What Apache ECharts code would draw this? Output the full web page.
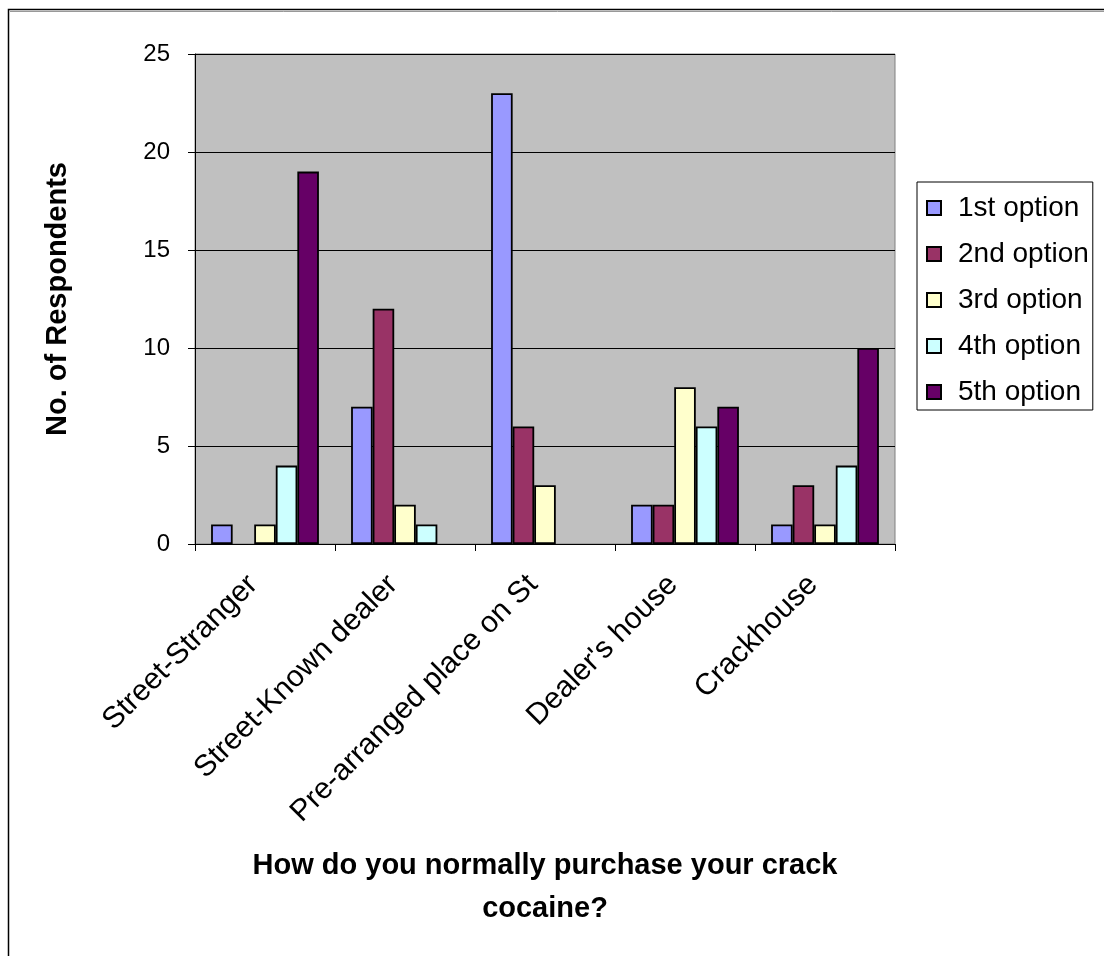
<!DOCTYPE html>
<html>
<head>
<meta charset="utf-8">
<script src="https://cdn.jsdelivr.net/npm/echarts@6/dist/echarts.min.js"></script>
<style>
  html, body { margin: 0; padding: 0; background: #fff; }
  #chart { width: 1104px; height: 956px; }
</style>
</head>
<body>
<div id="chart"></div>
<script>
// Purchase locations for crack cocaine, respondents by ranked option
const categories = ['Street-Stranger', 'Street-Known dealer', 'Pre-arranged place on St', "Dealer's house", 'Crackhouse'];
const seriesNames = ['1st option', '2nd option', '3rd option', '4th option', '5th option'];
const option1 = [1, 7, 23, 2, 1];
const option2 = [0, 12, 6, 2, 3];
const option3 = [1, 2, 3, 8, 1];
const option4 = [4, 1, 0, 6, 4];
const option5 = [19, 0, 0, 7, 10];
const colors = ['#9999FF', '#993366', '#FFFFCC', '#CCFFFF', '#660066'];
const yTicks = [0, 5, 10, 15, 20, 25];

const values = [option1, option2, option3, option4, option5];
const font = 'Arial, "Liberation Sans", sans-serif';

const chart = echarts.init(document.getElementById('chart'), null, { renderer: 'canvas' });

chart.setOption({
  animation: false,
  backgroundColor: '#ffffff',
  textStyle: { fontFamily: font },
  graphic: [
    { type: 'rect', shape: { x: 8.5, y: 9.5, width: 1200, height: 1000 },
      style: { fill: 'none', stroke: '#000', lineWidth: 1.5 }, z: 100 },
    { type: 'line', shape: { x1: 10, y1: 11.5, x2: 1200, y2: 11.5 },
      style: { stroke: '#999', lineWidth: 1 }, z: 100 }
  ],
  grid: {
    left: 195, top: 54, right: 209, bottom: 412,
    show: true, backgroundColor: '#C0C0C0', borderColor: '#808080', borderWidth: 1
  },
  legend: {
    orient: 'vertical',
    left: 917, top: 182,
    padding: [12, 4, 4, 9],
    itemGap: 18,
    itemWidth: 14, itemHeight: 14,
    icon: 'rect',
    backgroundColor: '#ffffff',
    borderColor: '#000', borderWidth: 1,
    borderRadius: 0,
    textStyle: { fontSize: 28, color: '#000', fontFamily: font, lineHeight: 28, padding: [0, 0, 0, 12] },
    data: seriesNames
  },
  xAxis: {
    type: 'category',
    data: categories,
    name: 'How do you normally purchase your crack\ncocaine?',
    nameLocation: 'middle',
    nameGap: 300,
    nameTextStyle: { fontSize: 29, fontWeight: 'bold', color: '#000', lineHeight: 43, fontFamily: font },
    axisLine: { lineStyle: { color: '#000', width: 1 } },
    axisTick: { show: true, length: 7, lineStyle: { color: '#000' }, alignWithLabel: false },
    axisLabel: {
      rotate: 45, fontSize: 30, color: '#000', margin: 24, interval: 0, fontFamily: font,
      padding: [0, 17, 0, 0]
    }
  },
  yAxis: {
    type: 'value',
    min: 0, max: 25, interval: 5,
    name: 'No. of Respondents',
    nameLocation: 'middle',
    nameGap: 123,
    nameRotate: 90,
    nameTextStyle: { fontSize: 29, fontWeight: 'bold', color: '#000', fontFamily: font },
    axisLine: { show: true, lineStyle: { color: '#000', width: 1 } },
    axisTick: { show: true, length: 7, lineStyle: { color: '#000' } },
    axisLabel: {
      fontSize: 24, color: '#000', margin: 25, fontFamily: font,
      formatter: v => (yTicks.includes(v) ? String(v) : '')
    },
    splitLine: { show: true, lineStyle: { color: '#000', width: 1 } }
  },
  series: seriesNames.map((name, i) => ({
    name,
    type: 'bar',
    // zero counts leave an empty slot rather than a flat outline
    data: values[i].map(v => (v === 0 ? '-' : v)),
    barGap: '0%',
    barCategoryGap: '23%',
    itemStyle: { color: colors[i], borderColor: '#000', borderWidth: 1.8 }
  }))
});
</script>
</body>
</html>
